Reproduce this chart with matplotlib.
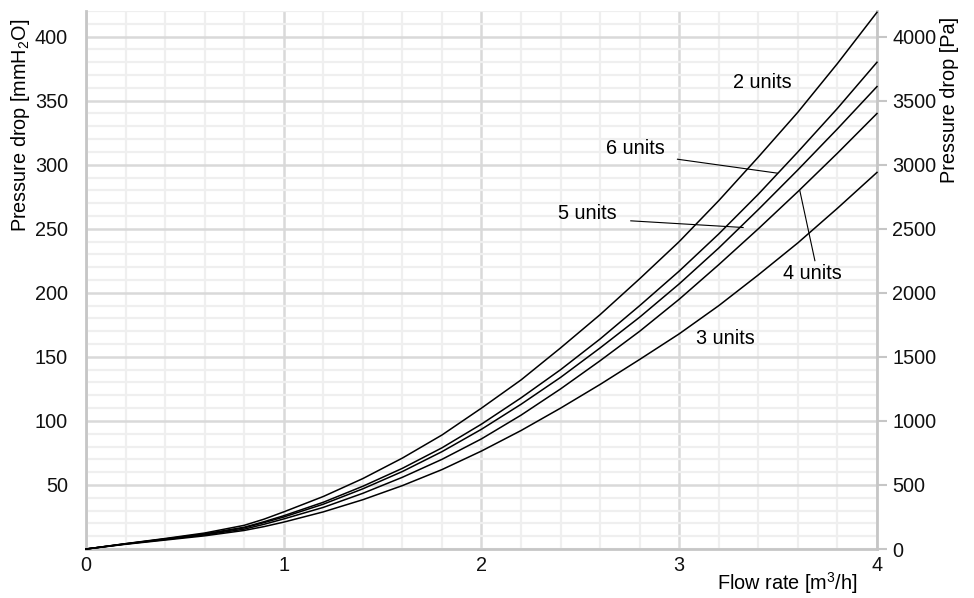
import matplotlib
matplotlib.use("Agg")
import matplotlib.pyplot as plt
import numpy as np

plt.rcParams["font.family"] = ["Liberation Sans", "DejaVu Sans"]
plt.rcParams["mathtext.default"] = "regular"

# flow rate [m3/h] and pressure drop [mmH2O]
flow = [0, 0.2, 0.4, 0.6, 0.8, 0.9, 1.0, 1.2, 1.4, 1.6, 1.8, 2.0, 2.2, 2.4, 2.6, 2.8, 3.0, 3.2, 3.4, 3.6, 3.8, 4.0]
units2 = [0, 4.2, 8.2, 12.5, 18.5, 23.3, 29, 41, 55, 71, 89, 110, 132, 157, 183, 211, 240, 272, 306, 341, 379, 419]
units6 = [0, 4.1, 7.9, 11.8, 17, 21.3, 26, 36.5, 49, 63, 79, 97.5, 118, 140, 164, 190, 217, 246, 277, 310, 344, 380]
units5 = [0, 4.0, 7.7, 11.5, 16.5, 20.6, 25, 35, 47, 60.5, 76, 93.5, 113, 134, 157, 181, 207, 235, 265, 296, 328, 361]
units4 = [0, 3.9, 7.4, 11, 15.5, 19.3, 23.5, 32.5, 43.5, 56, 70, 86, 104.5, 125, 147, 170, 195, 222, 250, 279, 309, 340]
units3 = [0, 3.7, 7.0, 10.3, 14.5, 17.5, 21, 29, 38.5, 49.5, 62, 76.5, 92.5, 110, 128.5, 148, 168, 190, 214, 239, 266, 294]

left_ticks = [50, 100, 150, 200, 250, 300, 350, 400]
right_ticks = [0, 500, 1000, 1500, 2000, 2500, 3000, 3500, 4000]

FS = 14.3
fig = plt.figure(figsize=(9.74, 5.98), dpi=100)
ax = fig.add_axes([0.0883, 0.0819, 0.8121, 0.8997])
ax.set_xlim(0, 4); ax.set_ylim(0, 420)

# grid
ax.set_xticks([0, 1, 2, 3, 4])
ax.set_xticks(np.arange(0, 4.01, 0.2), minor=True)
ax.set_yticks(left_ticks)
ax.set_yticks(np.arange(0, 421, 10), minor=True)
ax.grid(which="minor", color="#efefef", lw=1.6, zorder=0)
ax.grid(which="major", color="#d9d9d9", lw=1.8, zorder=0)
ax.set_axisbelow(True)
ax.tick_params(which="both", length=0, labelsize=FS, colors="#111111")
ax.tick_params(axis="y", pad=13)
ax.tick_params(axis="x", pad=5)
for s in ["left", "bottom", "right"]:
    ax.spines[s].set_color("#c6c6c6"); ax.spines[s].set_linewidth(2)
ax.spines["top"].set_visible(False)

for ys in [units2, units6, units5, units4, units3]:
    ax.plot(flow, ys, color="black", lw=1.1, zorder=3, clip_on=False)

# curve labels and leader lines
ax.text(3.418, 364, "2 units", ha="center", va="center", fontsize=FS)
ax.text(2.776, 313, "6 units", ha="center", va="center", fontsize=FS)
ax.text(2.533, 262, "5 units", ha="center", va="center", fontsize=FS)
ax.text(3.675, 215, "4 units", ha="center", va="center", fontsize=FS)
ax.text(3.231, 164, "3 units", ha="center", va="center", fontsize=FS)
ax.plot([2.991, 3.497], [304.3, 293.4], color="black", lw=0.8)
ax.plot([2.755, 3.323], [256.2, 251.0], color="black", lw=0.8)
ax.plot([3.610, 3.686], [279.6, 225.1], color="black", lw=0.8)

ax.set_xlabel("Flow rate [m$^3$/h]", fontsize=FS, va="center")
ax.xaxis.set_label_coords(0.886, -0.063)
ax.set_ylabel("Pressure drop [mmH$_2$O]", fontsize=FS, va="center")
ax.yaxis.set_label_coords(-0.083, 0.788)

# secondary axis in Pa
ax2 = ax.twinx()
ax2.set_ylim(0, 4200)
ax2.set_yticks(right_ticks)
ax2.tick_params(axis="y", length=7, width=1.5, color="#c6c6c6", labelsize=FS, pad=4, labelcolor="#111111")
for s in ax2.spines.values():
    s.set_visible(False)
ax2.set_ylabel("Pressure drop [Pa]", fontsize=FS, va="center")
ax2.yaxis.set_label_coords(1.092, 0.834)

fig.savefig("out.png", dpi=100)
